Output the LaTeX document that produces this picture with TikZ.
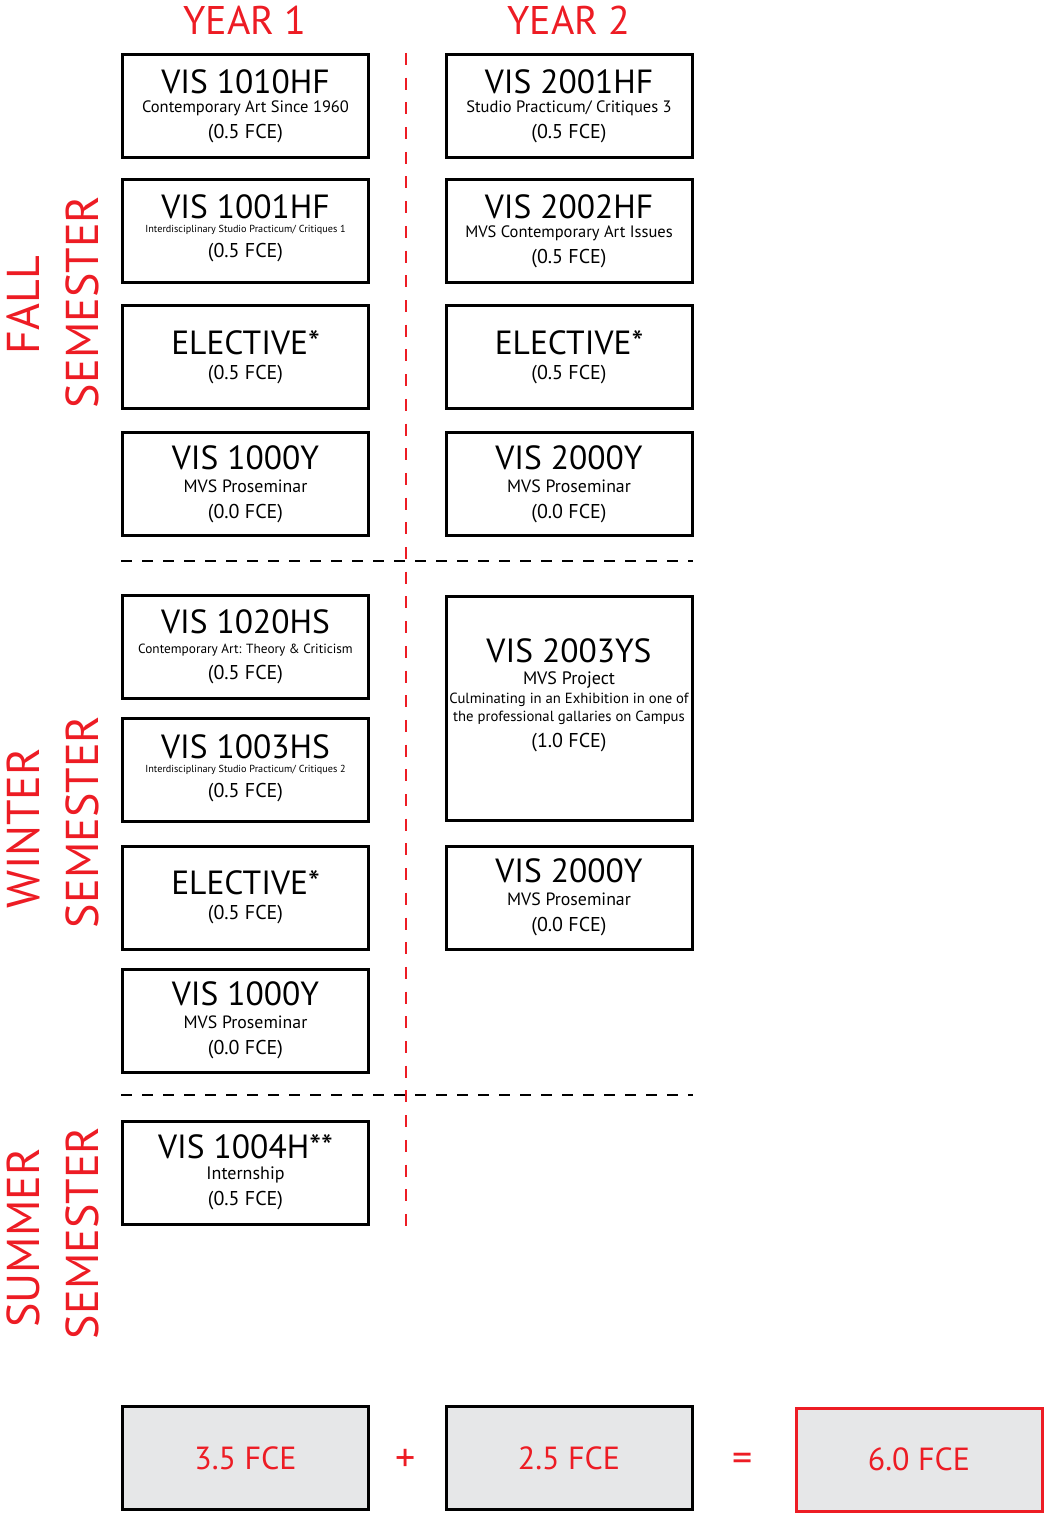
\documentclass[tikz,border=0pt]{standalone}
\usepackage{fontspec}
\setmainfont{PT Sans}
\usetikzlibrary{positioning}
\definecolor{planred}{HTML}{ED1C24}
\definecolor{plangray}{HTML}{E6E7E8}
\newcommand\code[1]{{\fontsize{33.5}{36}\selectfont #1}}
\newcommand\desc[1]{{\fontsize{16.5}{18}\selectfont #1}}
\newcommand\smalldesc[1]{{\fontsize{10.2}{12}\selectfont #1}}
\newcommand\fce[1]{{\fontsize{20}{24}\selectfont #1}}

\begin{document}
\begin{tikzpicture}
[x=1pt,y=-1pt,
 every node/.style={inner sep=0pt,outer sep=0pt,align=center,font=\fontsize{20}{24}\selectfont},
 course/.style={draw=black,line width=3pt,minimum width=246pt,minimum height=103pt},
 total/.style={course,fill=plangray,text=planred,font=\fontsize{32}{36}\selectfont},
 head/.style={text=planred,font=\fontsize{40}{44}\selectfont,anchor=base},
 term/.style={text=planred,font=\fontsize{46}{50}\selectfont,anchor=base,rotate=90},
 sign/.style={text=planred,font=\fontsize{40}{44}\selectfont},
 split/.style={dashed,line width=2pt,dash pattern=on 11pt off 10pt},
 ysplit/.style={planred,line width=2.5pt,dash pattern=on 12pt off 12.7pt}]
\useasboundingbox (0,0) rectangle (1045,1514);

% headings
\node[head] (y1) at (245,35) {YEAR 1};
\node[head] (y2) at (569,35) {YEAR 2};
\node[term] (fallA) at (39,305)  {FALL};
\node[term] (fallB) at (98,302)  {SEMESTER};
\node[term] (winA)  at (39,828)  {WINTER};
\node[term] (winB)  at (98,822)  {SEMESTER};
\node[term] (sumA)  at (39,1238) {SUMMER};
\node[term] (sumB)  at (98,1233) {SEMESTER};

% fall
\node[course] (f1a) at (245.5,106) {\code{VIS 1010HF}\\[-5pt]\desc{Contemporary Art Since 1960}\\[2pt]\fce{(0.5 FCE)}};
\node[course] (f1b) [on grid,below=125pt of f1a] {\code{VIS 1001HF}\\[-10pt]\smalldesc{Interdisciplinary Studio Practicum/ Critiques 1}\\[1pt]\fce{(0.5 FCE)}\\[-14pt]{}};
\node[course] (f1c) [on grid,below=126pt of f1b] {\code{ELECTIVE*}\\[1pt]\fce{(0.5 FCE)}};
\node[course] (f1d) [on grid,below=127pt of f1c] {\code{VIS 1000Y}\\[-1pt]\desc{\fontsize{17.8}{18}\selectfont MVS Proseminar}\\[2pt]\fce{(0.0 FCE)}};
\node[course] (f2a) [on grid,right=323.5pt of f1a] {\code{VIS 2001HF}\\[-5pt]\desc{Studio Practicum/ Critiques 3}\\[2pt]\fce{(0.5 FCE)}};
\node[course] (f2b) [on grid,right=323.5pt of f1b] {\code{VIS 2002HF}\\[-5pt]\desc{MVS Contemporary Art Issues}\\[2pt]\fce{(0.5 FCE)}};
\node[course] (f2c) [on grid,right=323.5pt of f1c] {\code{ELECTIVE*}\\[1pt]\fce{(0.5 FCE)}};
\node[course] (f2d) [on grid,right=323.5pt of f1d] {\code{VIS 2000Y}\\[-1pt]\desc{\fontsize{17.8}{18}\selectfont MVS Proseminar}\\[2pt]\fce{(0.0 FCE)}};

% winter
\node[course] (w1a) at (245.5,647) {\code{VIS 1020HS}\\[-4pt]\desc{\fontsize{13.3}{16}\selectfont Contemporary Art: Theory \& Criticism}\\[2pt]\fce{(0.5 FCE)}};
\node[course] (w1b) [on grid,below=123pt of w1a] {\code{VIS 1003HS}\\[-10pt]\smalldesc{Interdisciplinary Studio Practicum/ Critiques 2}\\[1pt]\fce{(0.5 FCE)}\\[-16pt]{}};
\node[course] (w1c) [on grid,below=127.5pt of w1b] {\code{ELECTIVE*}\\[1pt]\fce{(0.5 FCE)}};
\node[course] (w1d) [on grid,below=123pt of w1c] {\code{VIS 1000Y}\\[-1pt]\desc{\fontsize{17.8}{18}\selectfont MVS Proseminar}\\[2pt]\fce{(0.0 FCE)}};
\node[course,minimum height=224pt] (w2a) at (569,708.5) {\code{VIS 2003YS}\\[-2pt]\desc{\fontsize{18}{18}\selectfont MVS Project}\\[-5pt]\desc{\fontsize{14.7}{18}\selectfont Culminating in an Exhibition in one of}\\[-6pt]\desc{\fontsize{14.7}{18}\selectfont the professional gallaries on Campus}\\[2pt]\fce{(1.0 FCE)}\\[6pt]{}};
\node[course] (w2b) [on grid,right=323.5pt of w1c] {\code{VIS 2000Y}\\[-1pt]\desc{\fontsize{17.8}{18}\selectfont MVS Proseminar}\\[2pt]\fce{(0.0 FCE)}};

% summer
\node[course] (s1a) at (245.5,1172.5) {\code{VIS 1004H**}\\[-3pt]\desc{\fontsize{18}{18}\selectfont Internship}\\[2pt]\fce{(0.5 FCE)}};

% dividers
\coordinate (ytop) at (406,53);
\coordinate (ybot) at (406,1226);
\coordinate (fwL) at (121,561);
\coordinate (fwR) at (693,561);
\coordinate (wsL) at (121,1095);
\coordinate (wsR) at (693,1095);
\draw[split] (fwL) -- (fwR);
\draw[split] (wsL) -- (wsR);
\draw[ysplit] (ytop) -- (ybot);

% totals
\node[total] (t1) at (245.5,1458) {3.5 FCE};
\node[total] (t2) at (569,1458) {2.5 FCE};
\node[total,draw=planred] (t3) at (919,1459.5) {6.0 FCE};
\node[sign] (plus) at (406,1460) {+};
\node[sign] (eq) at (743,1462) {=};
\end{tikzpicture}
\end{document}
